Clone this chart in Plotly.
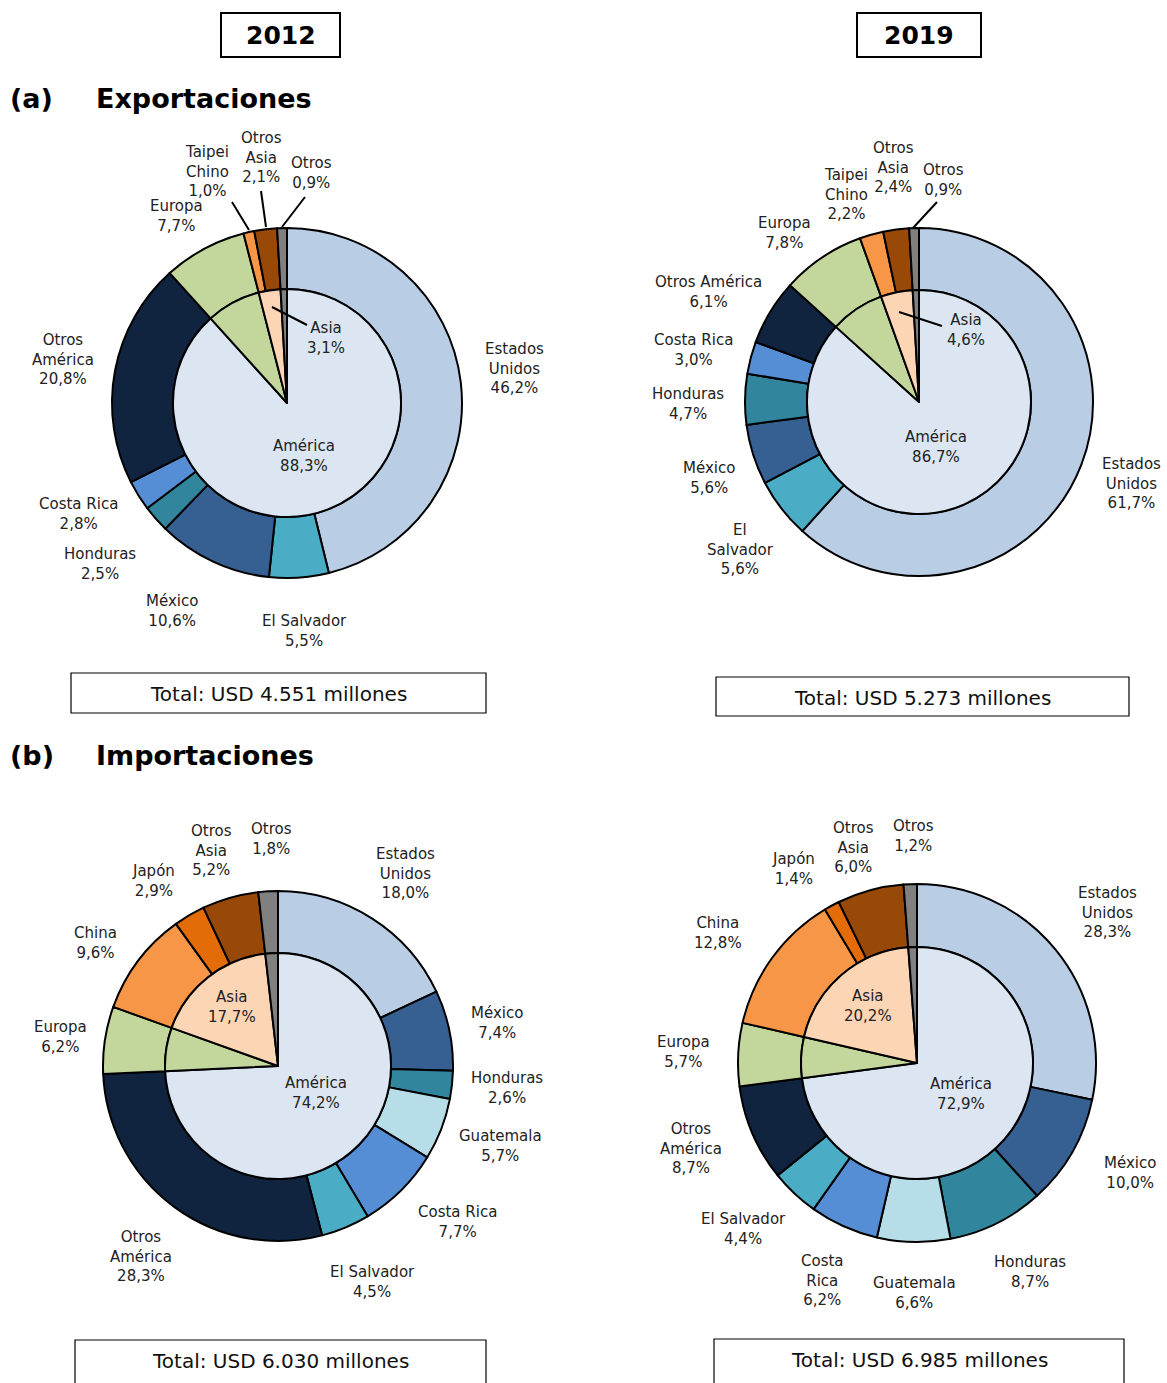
import plotly.graph_objects as go

W, H = 1167, 1383
FONT = "Verdana, DejaVu Sans, sans-serif"

# ---------------- DATA ----------------
exp12_countries = ["Estados Unidos", "El Salvador", "México", "Honduras", "Costa Rica",
                   "Otros América", "Europa", "Taipei Chino", "Otros Asia", "Otros"]
exp12_values = [46.2, 5.5, 10.6, 2.5, 2.8, 20.8, 7.7, 1.0, 2.1, 0.9]
exp12_regions = ["América", "Europa", "Asia", "Otros"]
exp12_region_values = [88.3, 7.7, 3.1, 0.9]
exp12_total = "4.551"

exp19_countries = ["Estados Unidos", "El Salvador", "México", "Honduras", "Costa Rica",
                   "Otros América", "Europa", "Taipei Chino", "Otros Asia", "Otros"]
exp19_values = [61.7, 5.6, 5.6, 4.7, 3.0, 6.1, 7.8, 2.2, 2.4, 0.9]
exp19_regions = ["América", "Europa", "Asia", "Otros"]
exp19_region_values = [86.7, 7.8, 4.6, 0.9]
exp19_total = "5.273"

imp12_countries = ["Estados Unidos", "México", "Honduras", "Guatemala", "Costa Rica",
                   "El Salvador", "Otros América", "Europa", "China", "Japón", "Otros Asia", "Otros"]
imp12_values = [18.0, 7.4, 2.6, 5.7, 7.7, 4.5, 28.3, 6.2, 9.6, 2.9, 5.2, 1.8]
imp12_regions = ["América", "Europa", "Asia", "Otros"]
imp12_region_values = [74.2, 6.2, 17.7, 1.8]
imp12_total = "6.030"

imp19_countries = ["Estados Unidos", "México", "Honduras", "Guatemala", "Costa Rica",
                   "El Salvador", "Otros América", "Europa", "China", "Japón", "Otros Asia", "Otros"]
imp19_values = [28.3, 10.0, 8.7, 6.6, 6.2, 4.4, 8.7, 5.7, 12.8, 1.4, 6.0, 1.2]
imp19_regions = ["América", "Europa", "Asia", "Otros"]
imp19_region_values = [72.9, 5.7, 20.2, 1.2]
imp19_total = "6.985"

# ---------------- STYLE ----------------
country_colors = {
    "Estados Unidos": "#b9cde5", "El Salvador": "#4bacc6", "México": "#376092",
    "Honduras": "#31859c", "Costa Rica": "#558ed5", "Guatemala": "#b7dee8",
    "Otros América": "#10243f", "Europa": "#c3d69b", "Taipei Chino": "#f79646",
    "China": "#f79646", "Japón": "#e36c09", "Otros Asia": "#984807", "Otros": "#808080",
}
region_colors = {"América": "#dce6f2", "Europa": "#c3d69b", "Asia": "#fcd5b5", "Otros": "#808080"}

LABEL_SIZE = 15


def fmt(v):
    return f"{v:.1f}".replace(".", ",") + "%"


def px_x(X):
    return X / W


def px_y(Y):
    return 1 - Y / H


fig = go.Figure()
annotations = []
shapes = []

charts = [
    dict(countries=exp12_countries, values=exp12_values, regions=exp12_regions,
         rvalues=exp12_region_values, total=exp12_total,
         c=(287, 403), R=175, r=114, box=(71, 673, 486, 713),
         names={"Estados Unidos": "Estados<br>Unidos", "Otros América": "Otros<br>América",
                "Taipei Chino": "Taipei<br>Chino", "Otros Asia": "Otros<br>Asia"},
         pos={"Taipei Chino": (207, 171), "Otros Asia": (261, 157), "Otros": (311, 173),
              "Europa": (176, 216), "Otros América": (63, 359), "Estados Unidos": (514, 369),
              "Costa Rica": (78, 514), "Honduras": (100, 564), "México": (172, 611),
              "El Salvador": (304, 631)},
         rpos={"América": (304, 456), "Asia": (326, 338)},
         leaders=[((232, 202), (249, 230)), ((261, 191), (266, 227)),
                  ((305, 197), (282, 227)), ((272, 307), (307, 325))]),
    dict(countries=exp19_countries, values=exp19_values, regions=exp19_regions,
         rvalues=exp19_region_values, total=exp19_total,
         c=(919, 402), R=174, r=112, box=(716, 677, 1129, 716),
         names={"Estados Unidos": "Estados<br>Unidos", "El Salvador": "El<br>Salvador",
                "Taipei Chino": "Taipei<br>Chino", "Otros Asia": "Otros<br>Asia"},
         pos={"Otros Asia": (893, 167), "Otros": (943, 180), "Taipei Chino": (846, 194),
              "Europa": (785, 233), "Otros América": (708, 292), "Costa Rica": (693, 350),
              "Honduras": (688, 404), "México": (709, 478), "El Salvador": (741, 549),
              "Estados Unidos": (1131, 484)},
         rpos={"América": (936, 447), "Asia": (966, 330)},
         leaders=[((937, 202), (913, 228)), ((899, 312), (942, 326))]),
    dict(countries=imp12_countries, values=imp12_values, regions=imp12_regions,
         rvalues=imp12_region_values, total=imp12_total,
         c=(278, 1066), R=175, r=113, box=(75, 1340, 486, 1400),
         names={"Estados Unidos": "Estados<br>Unidos", "Otros América": "Otros<br>América",
                "Otros Asia": "Otros<br>Asia"},
         pos={"Otros Asia": (211, 850), "Otros": (271, 839), "Japón": (153, 881),
              "China": (95, 943), "Europa": (60, 1037), "Estados Unidos": (405, 873),
              "México": (497, 1023), "Honduras": (507, 1088), "Guatemala": (500, 1146),
              "Costa Rica": (457, 1222), "El Salvador": (372, 1282), "Otros América": (141, 1256)},
         rpos={"América": (316, 1093), "Asia": (232, 1007)},
         leaders=[]),
    dict(countries=imp19_countries, values=imp19_values, regions=imp19_regions,
         rvalues=imp19_region_values, total=imp19_total,
         c=(917, 1063), R=179, r=116, box=(714, 1339, 1124, 1400),
         names={"Estados Unidos": "Estados<br>Unidos", "Otros América": "Otros<br>América",
                "Otros Asia": "Otros<br>Asia", "Costa Rica": "Costa<br>Rica"},
         pos={"Otros Asia": (853, 847), "Otros": (913, 836), "Japón": (793, 869),
              "China": (718, 933), "Europa": (683, 1052), "Estados Unidos": (1107, 912),
              "México": (1130, 1173), "Honduras": (1030, 1272), "Guatemala": (914, 1293),
              "Costa Rica": (822, 1280), "El Salvador": (743, 1229), "Otros América": (691, 1148)},
         rpos={"América": (961, 1094), "Asia": (868, 1006)},
         leaders=[]),
]

for ch in charts:
    cx, cy = ch["c"]
    R, r = ch["R"], ch["r"]
    fig.add_trace(go.Pie(
        labels=ch["countries"], values=ch["values"], hole=r / R, sort=False,
        direction="clockwise", rotation=0, textinfo="none", hoverinfo="label+percent",
        marker=dict(colors=[country_colors[k] for k in ch["countries"]],
                    line=dict(color="black", width=2)),
        domain=dict(x=[px_x(cx - R), px_x(cx + R)], y=[px_y(cy + R), px_y(cy - R)]),
        showlegend=False,
    ))
    fig.add_trace(go.Pie(
        labels=ch["regions"], values=ch["rvalues"], sort=False,
        direction="clockwise", rotation=0, textinfo="none", hoverinfo="label+percent",
        marker=dict(colors=[region_colors[k] for k in ch["regions"]],
                    line=dict(color="black", width=2)),
        domain=dict(x=[px_x(cx - r), px_x(cx + r)], y=[px_y(cy + r), px_y(cy - r)]),
        showlegend=False,
    ))
    for name, val in zip(ch["countries"], ch["values"]):
        X, Y = ch["pos"][name]
        annotations.append(dict(x=px_x(X), y=px_y(Y), xref="paper", yref="paper",
                                text=ch["names"].get(name, name) + "<br>" + fmt(val),
                                showarrow=False, font=dict(family=FONT, size=LABEL_SIZE, color="#222"),
                                xanchor="center", yanchor="middle", align="center"))
    for name, val in zip(ch["regions"], ch["rvalues"]):
        if name in ch["rpos"]:
            X, Y = ch["rpos"][name]
            annotations.append(dict(x=px_x(X), y=px_y(Y), xref="paper", yref="paper",
                                    text=name + "<br>" + fmt(val),
                                    showarrow=False, font=dict(family=FONT, size=LABEL_SIZE, color="#222"),
                                    xanchor="center", yanchor="middle", align="center"))
    for (x0, y0), (x1, y1) in ch["leaders"]:
        shapes.append(dict(type="line", xref="paper", yref="paper",
                           x0=px_x(x0), y0=px_y(y0), x1=px_x(x1), y1=px_y(y1),
                           line=dict(color="black", width=2)))
    bx0, by0, bx1, by1 = ch["box"]
    shapes.append(dict(type="rect", xref="paper", yref="paper",
                       x0=px_x(bx0), y0=px_y(by1), x1=px_x(bx1), y1=px_y(by0),
                       line=dict(color="black", width=1.2), fillcolor="rgba(0,0,0,0)"))
    annotations.append(dict(x=px_x((bx0 + bx1) / 2), y=px_y(by0 + 21), xref="paper", yref="paper",
                            text=f"Total: USD {ch['total']} millones", showarrow=False,
                            font=dict(family=FONT, size=20, color="#111"),
                            xanchor="center", yanchor="middle"))

# year headers
for year, (x0, y0, x1, y1) in [("2012", (221, 13, 340, 57)), ("2019", (857, 13, 981, 57))]:
    shapes.append(dict(type="rect", xref="paper", yref="paper",
                       x0=px_x(x0), y0=px_y(y1), x1=px_x(x1), y1=px_y(y0),
                       line=dict(color="black", width=2), fillcolor="rgba(0,0,0,0)"))
    annotations.append(dict(x=px_x((x0 + x1) / 2), y=px_y((y0 + y1) / 2 + 1), xref="paper", yref="paper",
                            text=f"<b>{year}</b>", showarrow=False,
                            font=dict(family=FONT, size=25, color="black"),
                            xanchor="center", yanchor="middle"))

# section titles
for lab, title, Y in [("(a)", "Exportaciones", 98), ("(b)", "Importaciones", 755)]:
    annotations.append(dict(x=px_x(8), y=px_y(Y), xref="paper", yref="paper",
                            text=f"<b>{lab}</b>", showarrow=False,
                            font=dict(family=FONT, size=27, color="black"),
                            xanchor="left", yanchor="middle"))
    annotations.append(dict(x=px_x(94), y=px_y(Y), xref="paper", yref="paper",
                            text=f"<b>{title}</b>", showarrow=False,
                            font=dict(family=FONT, size=27, color="black"),
                            xanchor="left", yanchor="middle"))

fig.update_layout(
    width=W, height=H, margin=dict(l=0, r=0, t=0, b=0),
    paper_bgcolor="white", plot_bgcolor="white",
    annotations=annotations, shapes=shapes,
    font=dict(family=FONT),
)

fig.write_html("out.html", config={"displayModeBar": False},
               post_script="document.body.style.margin='0';document.body.style.overflow='hidden';")
